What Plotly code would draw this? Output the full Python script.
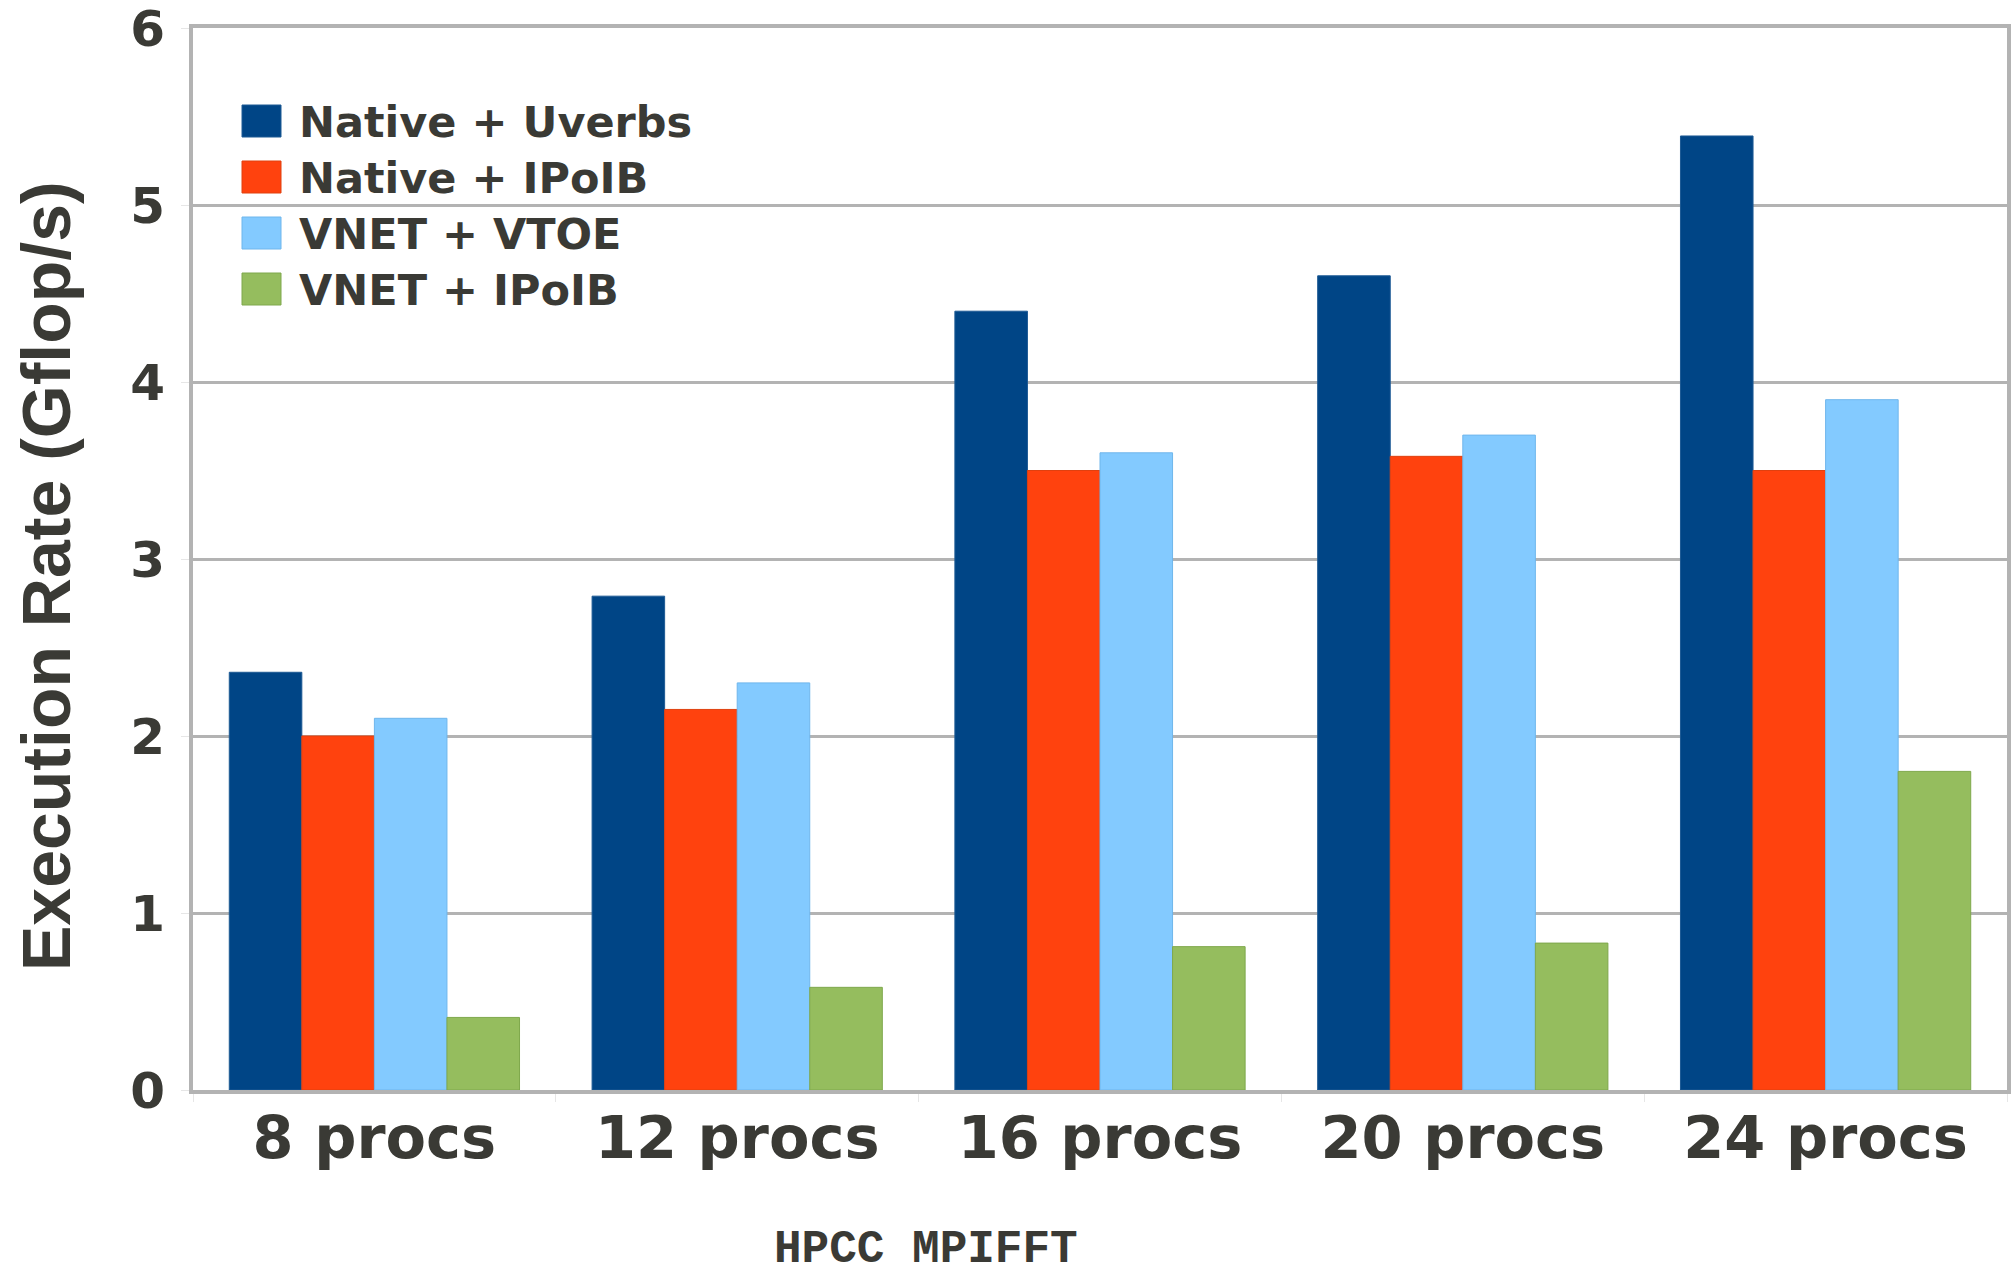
import plotly.graph_objects as go

# HPCC MPIFFT execution rate per process count and network configuration
categories = ["8 procs", "12 procs", "16 procs", "20 procs", "24 procs"]
series_names = ["Native + Uverbs", "Native + IPoIB", "VNET + VTOE", "VNET + IPoIB"]
native_uverbs = [2.36, 2.79, 4.40, 4.60, 5.39]
native_ipoib = [2.00, 2.15, 3.50, 3.58, 3.50]
vnet_vtoe = [2.10, 2.30, 3.60, 3.70, 3.90]
vnet_ipoib = [0.41, 0.58, 0.81, 0.83, 1.80]
y_ticks = [0, 1, 2, 3, 4, 5, 6]

series_values = [native_uverbs, native_ipoib, vnet_vtoe, vnet_ipoib]
fill_colors = ["#004586", "#ff420e", "#83caff", "#95bd5e"]
edge_colors = ["#1d5a94", "#e0400f", "#6fb6ec", "#7fa84c"]

W, H = 2016, 1282
M_L, M_R, M_T, M_B = 193, 9, 28, 192
PW, PH = W - M_L - M_R, H - M_T - M_B

TEXT = "#3a3a35"
GRID = "#b3b3b3"


def px_x(x):
    return (x - M_L) / PW


def px_y(y):
    return (H - M_B - y) / PH


fig = go.Figure()
for name, vals, fc, ec in zip(series_names, series_values, fill_colors, edge_colors):
    fig.add_trace(go.Bar(
        name=name, x=categories, y=vals,
        marker=dict(color=fc, line=dict(color=ec, width=1)),
        showlegend=False,
    ))

# legend: coloured swatches with bold labels, top-left inside the plot
shapes = []
annotations = []
row_y = [121, 177, 233, 289]
for name, fc, ec, cy in zip(series_names, fill_colors, edge_colors, row_y):
    shapes.append(dict(
        type="rect", xref="paper", yref="paper",
        x0=px_x(242), x1=px_x(281), y0=px_y(cy + 16), y1=px_y(cy - 16),
        fillcolor=fc, line=dict(color=ec, width=1), layer="above",
    ))
    annotations.append(dict(
        text=name, xref="paper", yref="paper", x=px_x(297), y=px_y(cy + 1),
        xanchor="left", yanchor="middle", showarrow=False,
        font=dict(family="DejaVu Sans", size=43, color=TEXT, weight="bold"),
    ))

# y axis title
annotations.append(dict(
    text="Execution Rate (Gflop/s)", xref="paper", yref="paper",
    x=px_x(46), y=px_y(576), xanchor="center", yanchor="middle",
    textangle=-90, showarrow=False,
    font=dict(family="Liberation Sans", size=68, color=TEXT, weight="bold"),
))

# benchmark name below the chart
annotations.append(dict(
    text="HPCC MPIFFT", xref="paper", yref="paper",
    x=px_x(926), y=px_y(1250), xanchor="center", yanchor="middle",
    showarrow=False,
    font=dict(family="Liberation Mono", size=46, color=TEXT, weight="bold"),
))

fig.update_layout(
    width=W, height=H,
    margin=dict(l=M_L, r=M_R, t=M_T, b=M_B, pad=0),
    paper_bgcolor="white", plot_bgcolor="white",
    barmode="group", bargap=0.2, bargroupgap=0,
    shapes=shapes, annotations=annotations,
    xaxis=dict(
        type="category", tickson="boundaries", ticks="outside", ticklen=8,
        tickcolor="#e6e6e6", tickwidth=1, automargin=False,
        showline=True, linecolor=GRID, linewidth=4, mirror=True,
        showgrid=False,
        tickfont=dict(family="DejaVu Sans", size=59, color=TEXT, weight="bold"),
        ticklabelstandoff=-7,
    ),
    yaxis=dict(
        range=[0, 6], tickvals=y_ticks, ticks="outside", ticklen=8,
        tickcolor="#e6e6e6", tickwidth=1, automargin=False,
        showline=True, linecolor=GRID, linewidth=4, mirror=True,
        showgrid=True, gridcolor=GRID, gridwidth=3, zeroline=False,
        tickfont=dict(family="DejaVu Sans", size=50, color=TEXT, weight="bold"),
        ticklabelstandoff=6, ticklabeloverflow="allow",
    ),
)

fig.write_html("out.html")
